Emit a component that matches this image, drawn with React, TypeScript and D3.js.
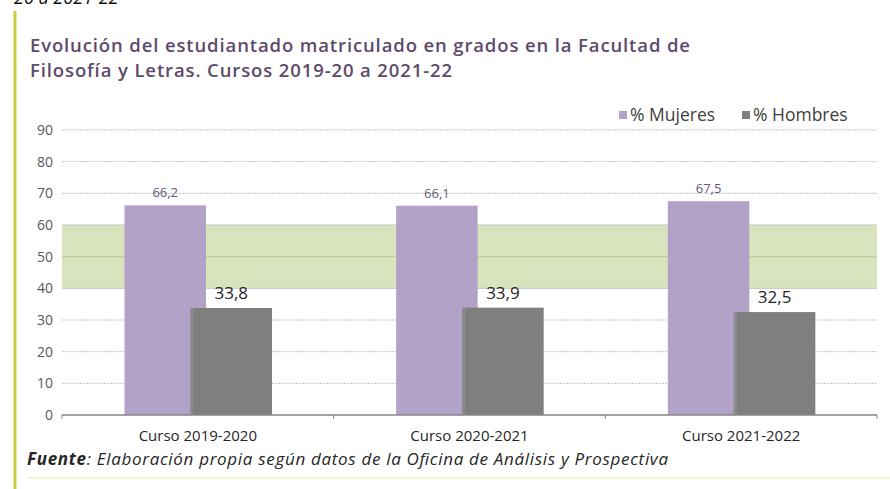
import React from 'react';
import * as d3 from 'd3';

const categories = ['Curso 2019-2020', 'Curso 2020-2021', 'Curso 2021-2022'];
const mujeres = [66.2, 66.1, 67.5];
const hombres = [33.8, 33.9, 32.5];
const mujeresLabels = ['66,2', '66,1', '67,5'];
const hombresLabels = ['33,8', '33,9', '32,5'];
const yTicks = [0, 10, 20, 30, 40, 50, 60, 70, 80, 90];
const band = [40, 60];

const W = 890;
const H = 489;
const margin = { left: 62, right: 13, top: 130, bottom: 74 };

const App: React.FC = () => {
  const x = d3.scaleBand<string>()
    .domain(categories)
    .range([margin.left, W - margin.right]);

  const y = d3.scaleLinear()
    .domain([0, 90])
    .range([H - margin.bottom, margin.top]);

  const bw = x.bandwidth() * 0.3;
  const center = (c: string) => (x(c) ?? 0) + x.bandwidth() / 2;
  // purple sits left, grey overlaps it slightly on the right
  const xM = (c: string) => center(c) - bw * 0.9;
  const xH = (c: string) => center(c) - bw * 0.09;

  const font = '"Open Sans", Lato, sans-serif';
  const plotRight = W - margin.right;
  const boundaries = [...categories.map(c => x(c) ?? 0), plotRight];

  return (
    <div style={{ position: 'absolute', left: 0, top: 0 }}>
      <svg width={W} height={H} style={{ display: 'block', background: '#fff' }} fontFamily={font}>
        {/* cut-off caption from the page above */}
        <text x={14} y={4} fontSize={18} fontStyle="italic" fill="#111">20 a 2021-22</text>

        {/* decorative frame */}
        <line x1={15} x2={15} y1={11} y2={H} stroke="#c5d13f" strokeWidth={3} />
        <line x1={28} x2={W} y1={478} y2={478} stroke="#f4f4cc" strokeWidth={2} />

        <text fontSize={18.5} fontWeight={600} fill="#5d4b6b">
          <tspan x={30} y={52} textLength={660} lengthAdjust="spacing">Evolución del estudiantado matriculado en grados en la Facultad de</tspan>
          <tspan x={30} y={77} textLength={422} lengthAdjust="spacing">Filosofía y Letras. Cursos 2019-20  a 2021-22</tspan>
        </text>

        {/* legend */}
        <rect x={619} y={111} width={8} height={8} fill="#b3a2c7" />
        <text x={630} y={121} fontSize={17.5} fill="#404040">% Mujeres</text>
        <rect x={742} y={111} width={8} height={8} fill="#808080" />
        <text x={753} y={121} fontSize={17.5} fill="#404040">% Hombres</text>

        {/* reference band */}
        <rect x={margin.left} width={plotRight - margin.left}
          y={y(band[1])} height={y(band[0]) - y(band[1])} fill="#d7e4bd" />

        {/* gridlines */}
        {yTicks.filter(t => t > 0).map(t => (
          <line key={t} x1={margin.left} x2={plotRight} y1={y(t)} y2={y(t)}
            stroke={t === 50 ? '#b9cc94' : '#c4c4c4'} strokeWidth={1}
            strokeDasharray={t === 50 || t === 40 || t === 60 ? undefined : '2,1'} />
        ))}

        {/* y tick labels */}
        {yTicks.map(t => (
          <text key={t} x={53} y={y(t)} dy="0.35em" textAnchor="end" fontSize={14} fill="#595959">{t}</text>
        ))}

        {/* bars */}
        {categories.map((c, i) => (
          <g key={c}>
            <rect x={xM(c)} y={y(mujeres[i])} width={bw} height={y(0) - y(mujeres[i])} fill="#b3a2c7" />
            <rect x={xH(c)} y={y(hombres[i])} width={bw} height={y(0) - y(hombres[i])} fill="#7f7f7f" />
            <rect x={xH(c)} y={y(hombres[i])} width={3} height={y(0) - y(hombres[i])} fill="#8c8c8c" />
            <text x={xM(c) + bw / 2} y={y(mujeres[i]) - 8} textAnchor="middle" fontSize={13} fill="#5f5a7a">{mujeresLabels[i]}</text>
            <text x={xH(c) + bw / 2} y={y(hombres[i]) - 9} textAnchor="middle" fontSize={17} fill="#262626">{hombresLabels[i]}</text>
          </g>
        ))}

        {/* x axis */}
        <line x1={margin.left} x2={plotRight} y1={y(0)} y2={y(0)} stroke="#868686" strokeWidth={1.5} />
        {boundaries.map((b, i) => (
          <line key={i} x1={b} x2={b} y1={y(0)} y2={y(0) + 4} stroke="#868686" strokeWidth={1} />
        ))}
        {categories.map(c => (
          <text key={c} x={center(c)} y={y(0) + 26} textAnchor="middle" fontSize={15} fill="#262626">{c}</text>
        ))}

        <text x={27} y={465} fontSize={17} fontStyle="italic" fill="#262626" textLength={641} lengthAdjust="spacing">
          <tspan fontWeight="bold">Fuente</tspan>: Elaboración propia según datos de la Oficina de Análisis y Prospectiva
        </text>
      </svg>
    </div>
  );
};

export default App;
